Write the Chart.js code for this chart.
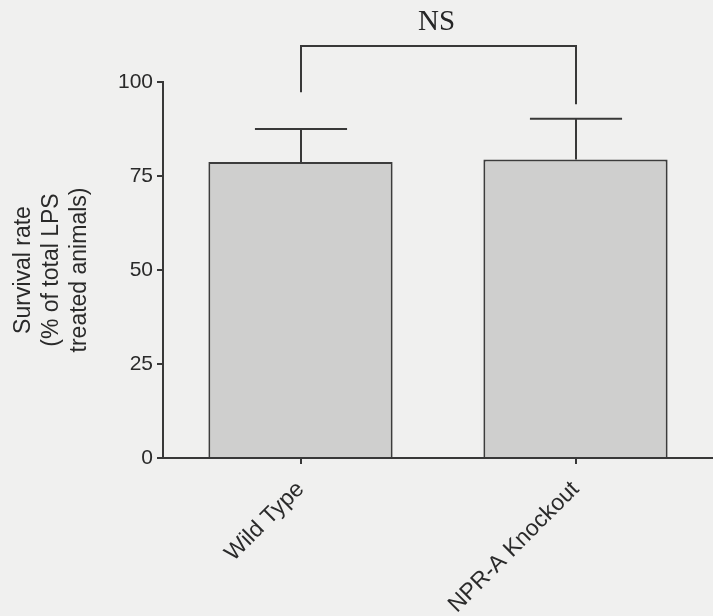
<!DOCTYPE html>
<html>
<head>
<meta charset="utf-8">
<script src="https://cdn.jsdelivr.net/npm/chart.js@4/dist/chart.umd.min.js"></script>
<style>
  html, body { margin: 0; padding: 0; background: #f0f0ef; overflow: hidden; }
  #wrap { position: relative; width: 713px; height: 616px; }
</style>
</head>
<body>
<div id="wrap"><canvas id="c" width="713" height="616"></canvas></div>
<script>
// ---- data ----
const categories = ['Wild Type', 'NPR-A Knockout'];
const survival = [78.7, 79.4];          // % survival
const semUpper = [8.8, 10.8];           // upper error
const yTicks = [0, 25, 50, 75, 100];
const yTitle = ['Survival rate', '(% of total LPS', 'treated animals)'];
const sigText = 'NS';

const ink = '#383838';

const annot = {
  id: 'annot',
  afterDatasetsDraw(chart, args, opts) {
    const ctx = chart.ctx;
    const meta = chart.getDatasetMeta(0);
    const y = chart.scales.y;
    ctx.save();
    ctx.strokeStyle = ink;
    ctx.lineWidth = 2;
    // error bars
    meta.data.forEach((bar, i) => {
      const top = y.getPixelForValue(survival[i] + semUpper[i]);
      const x = Math.round(bar.x);
      const half = bar.width / 4;
      ctx.beginPath();
      ctx.moveTo(x, bar.y);
      ctx.lineTo(x, top);
      ctx.moveTo(x - half, top);
      ctx.lineTo(x + half, top);
      ctx.stroke();
    });
    // significance bracket
    const x0 = Math.round(meta.data[0].x), x1 = Math.round(meta.data[1].x);
    const yb = y.getPixelForValue(opts.bracket);
    ctx.beginPath();
    ctx.moveTo(x0, y.getPixelForValue(opts.legs[0]));
    ctx.lineTo(x0, yb);
    ctx.lineTo(x1, yb);
    ctx.lineTo(x1, y.getPixelForValue(opts.legs[1]));
    ctx.stroke();
    ctx.fillStyle = '#262626';
    ctx.font = '29px "Liberation Serif", "Times New Roman", serif';
    ctx.textAlign = 'center';
    ctx.textBaseline = 'bottom';
    ctx.fillText(sigText, (x0 + x1) / 2 - 2, yb - 9);
    ctx.restore();
  }
};

new Chart(document.getElementById('c'), {
  type: 'bar',
  data: {
    labels: categories,
    datasets: [{
      data: survival,
      backgroundColor: '#cfcfce',
      borderColor: '#3c3c3c',
      borderWidth: 2,
      borderSkipped: 'bottom',
      barPercentage: 0.67,
      categoryPercentage: 1
    }]
  },
  options: {
    responsive: false,
    animation: false,
    layout: { padding: { top: 82, right: 0, bottom: 0, left: 0 } },
    plugins: {
      legend: { display: false },
      tooltip: { enabled: false },
      annot: { bracket: 109.6, legs: [97.3, 94.1] }
    },
    scales: {
      x: {
        offset: true,
        grid: { display: true, drawOnChartArea: false, offset: false, tickLength: 6, color: ink, lineWidth: 2 },
        border: { display: true, color: ink, width: 2 },
        ticks: {
          autoSkip: false, minRotation: 45, maxRotation: 45, padding: 12,
          color: '#2a2a2a',
          font: { family: '"Liberation Sans", Arial, sans-serif', size: 23 }
        },
        afterFit(scale) { scale.height = 158; }
      },
      y: {
        min: 0, max: 100,
        afterBuildTicks(scale) { scale.ticks = yTicks.map(v => ({ value: v })); },
        grid: { display: true, drawOnChartArea: false, tickLength: 6, color: ink, lineWidth: 2 },
        border: { display: true, color: ink, width: 2 },
        ticks: {
          padding: 4, color: '#2a2a2a',
          font: { family: '"Liberation Sans", Arial, sans-serif', size: 21 }
        },
        title: {
          display: true, text: yTitle, color: '#2a2a2a',
          font: { family: '"Liberation Sans", Arial, sans-serif', size: 23, lineHeight: 1.22 },
          padding: { top: 10, bottom: 0 }
        },
        afterFit(scale) { scale.width = 163; }
      }
    }
  },
  plugins: [annot]
});
</script>
</body>
</html>
